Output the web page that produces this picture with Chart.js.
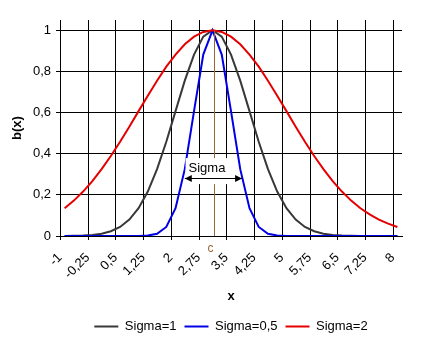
<!DOCTYPE html>
<html>
<head>
<meta charset="utf-8">
<script src="https://cdn.jsdelivr.net/npm/chart.js@4.4.0/dist/chart.umd.min.js"></script>
<style>
  html, body { margin: 0; padding: 0; background: #fff; }
  #wrap { width: 432px; height: 354px; }
</style>
</head>
<body>
<div id="wrap"><canvas id="gauss__chart"></canvas></div>
<script>
// x categories (step 0,25), labels written the way the sheet shows them
const xLabels = [
  '-1', '-0,75', '-0,5', '-0,25', '0', '0,25', '0,5', '0,75', '1', '1,25',
  '1,5', '1,75', '2', '2,25', '2,5', '2,75', '3', '3,25', '3,5', '3,75',
  '4', '4,25', '4,5', '4,75', '5', '5,25', '5,5', '5,75', '6', '6,25',
  '6,5', '6,75', '7', '7,25', '7,5', '7,75', '8'
];

// b(x) values
const sigma1 = [
  0.000, 0.001, 0.002, 0.005, 0.011, 0.023, 0.044, 0.080, 0.135, 0.216,
  0.325, 0.458, 0.607, 0.755, 0.882, 0.969, 1.000, 0.969, 0.882, 0.755,
  0.607, 0.458, 0.325, 0.216, 0.135, 0.080, 0.044, 0.023, 0.011, 0.005,
  0.002, 0.001, 0.000, 0.000, 0.000, 0.000, 0.000
];
const sigma05 = [
  0.000, 0.000, 0.000, 0.000, 0.000, 0.000, 0.000, 0.000, 0.000, 0.002,
  0.011, 0.044, 0.135, 0.325, 0.607, 0.882, 1.000, 0.882, 0.607, 0.325,
  0.135, 0.044, 0.011, 0.002, 0.000, 0.000, 0.000, 0.000, 0.000, 0.000,
  0.000, 0.000, 0.000, 0.000, 0.000, 0.000, 0.000
];
const sigma2 = [
  0.135, 0.172, 0.216, 0.267, 0.325, 0.389, 0.458, 0.531, 0.607, 0.682,
  0.755, 0.823, 0.882, 0.932, 0.969, 0.992, 1.000, 0.992, 0.969, 0.932,
  0.882, 0.823, 0.755, 0.682, 0.607, 0.531, 0.458, 0.389, 0.325, 0.267,
  0.216, 0.172, 0.135, 0.105, 0.080, 0.060, 0.044
];

const yTicks = [0, 0.2, 0.4, 0.6, 0.8, 1];
const labelEvery = 3;

// annotation anchors (category index / y value)
const cIndex = 16.2;
const sigmaArrow = { from: 13, to: 19.2, y: 0.28 };
const sigmaText = { index: 15.4, y: 0.33, text: 'Sigma' };

const FONT = '"Liberation Sans", Arial, sans-serif';
const BROWN = '#996633';

// vertical grid lines only on labelled category boundaries
const xGrid = {
  id: 'xGrid',
  beforeDatasetsDraw(chart) {
    const { ctx, chartArea, scales: { x } } = chart;
    ctx.save();
    ctx.strokeStyle = '#000';
    ctx.lineWidth = 1;
    ctx.beginPath();
    for (let i = 0; i < xLabels.length; i += labelEvery) {
      const px = Math.round(x.getPixelForValue(i - 0.5)) + 0.5;
      ctx.moveTo(px, chartArea.top);
      ctx.lineTo(px, chartArea.bottom + 4);
    }
    ctx.stroke();
    ctx.restore();
  }
};

// draws the c line, the Sigma label and its double arrow
const sigmaMarks = {
  id: 'sigmaMarks',
  afterDatasetsDraw(chart) {
    const { ctx, scales: { x, y } } = chart;
    const cx = Math.round(x.getPixelForValue(cIndex)) + 0.5;
    ctx.save();

    ctx.strokeStyle = BROWN;
    ctx.lineWidth = 1;
    ctx.beginPath();
    ctx.moveTo(cx, y.getPixelForValue(1));
    ctx.lineTo(cx, y.getPixelForValue(0));
    ctx.stroke();

    // label box
    ctx.font = '13px ' + FONT;
    const tx = x.getPixelForValue(sigmaText.index);
    const ty = y.getPixelForValue(sigmaText.y);
    const tw = ctx.measureText(sigmaText.text).width + 6;
    ctx.fillStyle = '#fff';
    ctx.fillRect(tx - tw / 2, ty - 10, tw, 26);
    ctx.fillStyle = '#000';
    ctx.textAlign = 'center';
    ctx.textBaseline = 'middle';
    ctx.fillText(sigmaText.text, tx, ty);

    // double arrow
    const ay = Math.round(y.getPixelForValue(sigmaArrow.y)) + 0.5;
    const x1 = x.getPixelForValue(sigmaArrow.from);
    const x2 = x.getPixelForValue(sigmaArrow.to);
    ctx.strokeStyle = '#000';
    ctx.beginPath();
    ctx.moveTo(x1, ay);
    ctx.lineTo(x2, ay);
    ctx.stroke();
    ctx.beginPath();
    ctx.moveTo(x1, ay); ctx.lineTo(x1 + 7, ay - 3.5); ctx.lineTo(x1 + 7, ay + 3.5); ctx.closePath();
    ctx.moveTo(x2, ay); ctx.lineTo(x2 - 7, ay - 3.5); ctx.lineTo(x2 - 7, ay + 3.5); ctx.closePath();
    ctx.fill();

    // "c" under the axis
    ctx.fillStyle = BROWN;
    ctx.font = '12px ' + FONT;
    ctx.fillText('c', cx - 4, y.bottom + 13);
    ctx.restore();
  }
};

const ctx = document.getElementById('gauss__chart').getContext('2d');
const gaussChart = new Chart(ctx, {
  type: 'line',
  data: {
    labels: xLabels,
    datasets: [
      { label: 'Sigma=1', data: sigma1, borderColor: '#383838', order: 3 },
      { label: 'Sigma=0,5', data: sigma05, borderColor: '#0000e6', order: 2 },
      { label: 'Sigma=2', data: sigma2, borderColor: '#e60000', order: 1 }
    ]
  },
  options: {
    responsive: true,
    maintainAspectRatio: false,
    animation: false,
    devicePixelRatio: 1,
    elements: {
      line: { borderWidth: 2, tension: 0, fill: false },
      point: { radius: 0, hoverRadius: 0 }
    },
    layout: { padding: { top: 20, right: 30, bottom: 11, left: 0 } },
    plugins: {
      tooltip: { enabled: false },
      legend: {
        position: 'bottom',
        fullSize: false,
        labels: {
          usePointStyle: true,
          pointStyleWidth: 24,
          padding: 8,
          color: '#000',
          font: { family: FONT, size: 13 },
          generateLabels: (chart) => chart.data.datasets.map((ds, i) => ({
            text: ds.label,
            strokeStyle: ds.borderColor,
            fillStyle: ds.borderColor,
            lineWidth: 2,
            pointStyle: 'line',
            hidden: false,
            datasetIndex: i
          }))
        }
      }
    },
    scales: {
      x: {
        offset: true,
        grid: { display: false },
        border: { color: '#000' },
        ticks: {
          autoSkip: false,
          minRotation: 45,
          maxRotation: 45,
          labelOffset: -4.6,
          padding: 6,
          color: '#000',
          font: { family: FONT, size: 13 },
          callback: (val, i) => (i % labelEvery === 0 ? xLabels[i] : '')
        },
        title: {
          display: true,
          text: 'x',
          color: '#000',
          font: { family: FONT, size: 13, weight: 'bold' },
          padding: { top: 0, bottom: 8 }
        },
        afterFit: (scale) => { scale.height = 76; }
      },
      y: {
        min: 0,
        max: 1.05,
        grid: { color: '#000', tickLength: 4 },
        border: { color: '#000' },
        afterBuildTicks: (scale) => { scale.ticks = yTicks.map(v => ({ value: v })); },
        ticks: {
          padding: 5,
          color: '#000',
          font: { family: FONT, size: 13 },
          callback: (v) => String(Math.round(v * 10) / 10).replace('.', ',')
        },
        title: {
          display: true,
          text: 'b(x)',
          color: '#000',
          font: { family: FONT, size: 13, weight: 'bold' },
          padding: { top: 10, bottom: 0 }
        },
        afterFit: (scale) => { scale.width = 60; }
      }
    }
  },
  plugins: [xGrid, sigmaMarks]
});
</script>
</body>
</html>
